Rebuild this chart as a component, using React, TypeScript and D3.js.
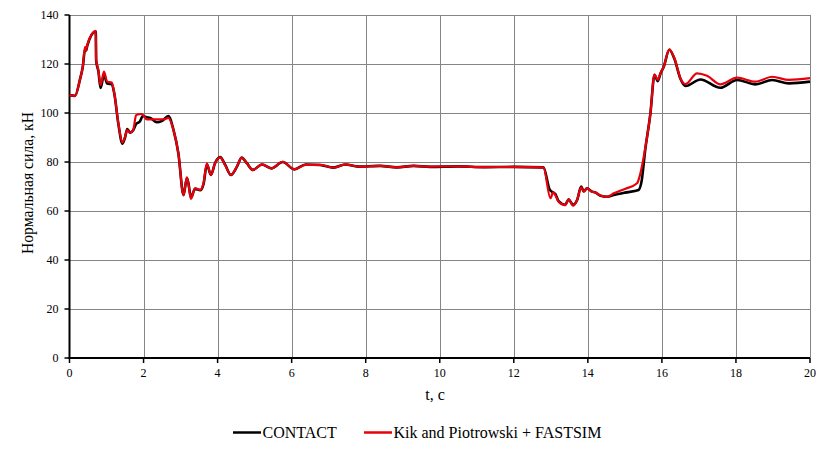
import React, { useEffect, useRef } from "react";
import * as d3 from "d3";

const xTicks = [0, 2, 4, 6, 8, 10, 12, 14, 16, 18, 20];
const yTicks = [0, 20, 40, 60, 80, 100, 120, 140];

const contactT = [0, 0.15, 0.28, 0.36, 0.42, 0.45, 0.48, 0.71, 0.72, 0.78, 0.84, 0.93, 1.02, 1.14, 1.21, 1.32, 1.43, 1.5, 1.56, 1.64, 1.72, 1.8, 1.9, 1.98, 2.08, 2.18, 2.36, 2.5, 2.67, 2.81, 2.94, 3.08, 3.17, 3.21, 3.28, 3.39, 3.53, 3.62, 3.71, 3.82, 3.93, 4.07, 4.2, 4.36, 4.52, 4.65, 4.79, 4.95, 5.2, 5.45, 5.76, 6.07, 6.38, 6.77, 7.13, 7.45, 7.8, 8.39, 8.84, 9.29, 9.74, 10.5, 11.2, 12, 12.8, 12.97, 13.06, 13.12, 13.21, 13.39, 13.48, 13.6, 13.71, 13.82, 13.89, 13.98, 14.1, 14.2, 14.34, 14.52, 14.7, 15, 15.37, 15.45, 15.55, 15.69, 15.8, 15.89, 15.96, 16.05, 16.2, 16.34, 16.5, 16.64, 17.04, 17.58, 18.03, 18.53, 18.98, 19.43, 20];
const contactV = [107.3, 107, 113.5, 119, 126, 125.5, 127.5, 133.3, 121.5, 117, 110.2, 115.5, 112, 111.8, 108, 95.5, 87.5, 90, 93.5, 92, 93, 95.5, 96.5, 98.8, 98.3, 98, 96.2, 96.8, 98.8, 93, 83.6, 66.5, 73.5, 71.5, 65.5, 69, 68.5, 71, 79, 74.7, 79.5, 82, 79, 74.7, 78, 81.8, 79.5, 76.8, 79, 77.4, 80, 77, 79, 78.8, 77.7, 79, 78.1, 78.4, 77.8, 78.4, 78, 78.2, 77.9, 78, 77.8, 68.7, 67.6, 67, 64, 62.5, 64.8, 62.5, 64.5, 70, 68, 69.3, 68, 67.6, 66.2, 65.8, 66.5, 67.5, 68.6, 72, 85, 99.9, 115.5, 113, 116, 118.9, 125.8, 122, 114, 111, 113.7, 110.3, 113.5, 111.7, 113.5, 112.1, 112.8];

const kikT = [0, 0.15, 0.28, 0.36, 0.42, 0.45, 0.48, 0.71, 0.72, 0.78, 0.84, 0.93, 1.02, 1.14, 1.21, 1.32, 1.43, 1.5, 1.56, 1.64, 1.72, 1.8, 1.95, 2.09, 2.36, 2.54, 2.67, 2.81, 2.94, 3.08, 3.17, 3.21, 3.28, 3.39, 3.53, 3.62, 3.71, 3.82, 3.93, 4.07, 4.2, 4.36, 4.52, 4.65, 4.79, 4.95, 5.2, 5.45, 5.76, 6.07, 6.38, 6.77, 7.13, 7.45, 7.8, 8.39, 8.84, 9.29, 9.74, 10.5, 11.2, 12, 12.8, 12.99, 13.06, 13.12, 13.21, 13.39, 13.48, 13.6, 13.71, 13.82, 13.89, 13.98, 14.1, 14.2, 14.34, 14.52, 14.7, 15, 15.33, 15.42, 15.55, 15.69, 15.8, 15.89, 15.96, 16.05, 16.2, 16.34, 16.5, 16.64, 16.95, 17.22, 17.58, 18.03, 18.53, 18.98, 19.43, 20];
const kikV = [107.3, 107, 113.5, 119, 127, 125.7, 127.8, 133.5, 121.6, 117.5, 111.4, 116.9, 112.8, 112.4, 108, 95.8, 87.9, 90.3, 93, 92, 93, 99.2, 99.6, 97.4, 97.4, 97.4, 98, 93, 83.6, 66.5, 73.7, 71.3, 64.9, 69.3, 68.6, 71.3, 79.5, 74.7, 79.5, 81.9, 78.8, 74.7, 78.1, 81.8, 79.5, 76.7, 79, 77.4, 80.1, 77, 78.8, 78.8, 77.7, 79, 78.1, 78.4, 77.8, 78.4, 78.1, 78.2, 77.9, 78, 77.8, 65.2, 67.6, 66.5, 63.8, 62.4, 64.8, 62.2, 64.5, 69.7, 67.9, 69.3, 67.9, 67.6, 66.3, 65.8, 67.2, 69, 71.3, 75.4, 85.6, 99.9, 115.8, 113.5, 116.2, 118.9, 126, 122.3, 114.2, 111.8, 116.2, 115.2, 111.7, 114.4, 112.8, 114.8, 113.5, 114.2];

const seriesNames = ["CONTACT", "Kik and Piotrowski + FASTSIM"];
const seriesColors = ["#000000", "#e8000b"];

const W = 831, H = 454;
const left = 69.5, right = 810, top = 15, bottom = 358;
const font = "'Times New Roman', 'Liberation Serif', Tinos, 'DejaVu Serif', serif";

export default function App() {
  const ref = useRef<SVGSVGElement>(null);
  useEffect(() => {
    const svg = d3.select(ref.current);
    svg.selectAll("*").remove();
    const x = d3.scaleLinear().domain([0, 20]).range([left, right]);
    const y = d3.scaleLinear().domain([0, 140]).range([bottom, top]);

    const g = svg.append("g");
    g.selectAll(".vg").data(xTicks.filter(t => t > 0)).enter().append("line")
      .attr("x1", d => Math.round(x(d)) + 0.5).attr("x2", d => Math.round(x(d)) + 0.5)
      .attr("y1", top).attr("y2", bottom).attr("stroke", "#858585").attr("stroke-width", 1);
    g.selectAll(".hg").data(yTicks.filter(t => t > 0)).enter().append("line")
      .attr("y1", d => Math.round(y(d)) + 0.5).attr("y2", d => Math.round(y(d)) + 0.5)
      .attr("x1", left).attr("x2", right).attr("stroke", "#858585").attr("stroke-width", 1);

    g.append("line").attr("x1", left).attr("x2", left).attr("y1", top).attr("y2", bottom + 1)
      .attr("stroke", "#000").attr("stroke-width", 2);
    g.append("line").attr("x1", left - 1).attr("x2", right).attr("y1", bottom).attr("y2", bottom)
      .attr("stroke", "#000").attr("stroke-width", 2);
    g.selectAll(".yt").data(yTicks).enter().append("line")
      .attr("x1", left - 5).attr("x2", left).attr("y1", d => y(d)).attr("y2", d => y(d))
      .attr("stroke", "#000").attr("stroke-width", 1.5);
    g.selectAll(".xt").data(xTicks).enter().append("line")
      .attr("x1", d => x(d)).attr("x2", d => x(d)).attr("y1", bottom).attr("y2", bottom + 5)
      .attr("stroke", "#000").attr("stroke-width", 1.5);

    g.selectAll(".yl").data(yTicks).enter().append("text")
      .attr("x", left - 11).attr("y", d => y(d)).attr("dy", "0.35em")
      .attr("text-anchor", "end").attr("font-family", font).attr("font-size", 12)
      .text(d => String(d));
    g.selectAll(".xl").data(xTicks).enter().append("text")
      .attr("x", d => x(d)).attr("y", bottom + 19)
      .attr("text-anchor", "middle").attr("font-family", font).attr("font-size", 12)
      .text(d => String(d));

    g.append("text").attr("x", 435).attr("y", 400)
      .attr("text-anchor", "middle").attr("font-family", font).attr("font-size", 16).text("t, c");
    g.append("text").attr("transform", `translate(33,183) rotate(-90)`)
      .attr("text-anchor", "middle").attr("font-family", font).attr("font-size", 15.7)
      .text("Нормальная сила, кН");

    const line = d3.line<[number, number]>().x(d => x(d[0])).y(d => y(d[1])).curve(d3.curveMonotoneX);
    const series: [number, number][][] = [
      contactT.map((t, i) => [t, contactV[i]]),
      kikT.map((t, i) => [t, kikV[i]]),
    ];
    series.forEach((s, i) => {
      g.append("path").attr("d", line(s) as string).attr("fill", "none")
        .attr("stroke", seriesColors[i]).attr("stroke-width", i === 0 ? 2.6 : 2.2)
        .attr("stroke-linejoin", "round");
    });

    const lx = [233, 364];
    const ly = 432.5;
    seriesNames.forEach((n, i) => {
      g.append("line").attr("x1", lx[i]).attr("x2", lx[i] + 28).attr("y1", ly).attr("y2", ly)
        .attr("stroke", seriesColors[i]).attr("stroke-width", 2.5);
      g.append("text").attr("x", lx[i] + 29.5).attr("y", ly).attr("dy", "0.35em")
        .attr("font-family", font).attr("font-size", 16).text(n);
    });
  }, []);
  return (
    <svg ref={ref} width={W} height={H} style={{ position: "absolute", left: 0, top: 0, background: "#fff" }} />
  );
}
